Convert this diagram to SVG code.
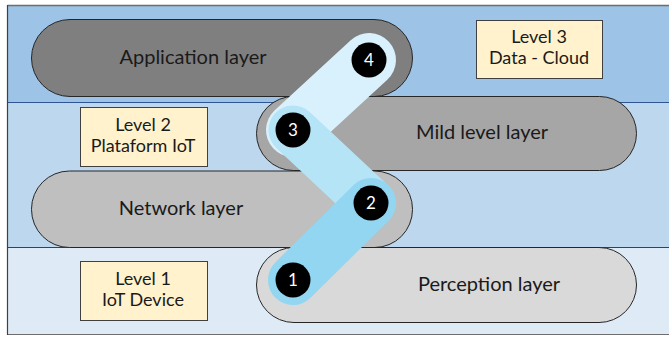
<svg xmlns="http://www.w3.org/2000/svg" width="669" height="337" viewBox="0 0 669 337">
<style>
.pill{stroke:#262626;stroke-width:1}
.lt{font-family:Lato,"Open Sans",sans-serif;font-size:20px;fill:#1a1a1a;text-anchor:middle}
.box{fill:#fff2cc;stroke:#404040;stroke-width:1}
.bt{font-family:Lato,"Open Sans",sans-serif;font-size:18px;fill:#1a1a1a;text-anchor:middle}
.band{fill:none;stroke-linecap:round}
.num{fill:#000}
.nt{font-family:Lato,"Open Sans",sans-serif;font-size:17px;fill:#fff;text-anchor:middle}
</style>
<rect width="669" height="337" fill="#ffffff"/>
<g id="bands">
<rect x="7.5" y="5.5" width="670" height="97" fill="#9dc3e6"/>
<rect x="7.5" y="102.5" width="670" height="145" fill="#bdd7ee"/>
<rect x="7.5" y="247.5" width="670" height="87" fill="#deebf7"/>
<line x1="7.5" y1="5.5" x2="669" y2="5.5" stroke="#6e6e6e" stroke-width="1.5"/>
<line x1="7.5" y1="102.5" x2="669" y2="102.5" stroke="#2f5597" stroke-width="1.2"/>
<line x1="7.5" y1="247.5" x2="669" y2="247.5" stroke="#404040" stroke-width="1.2"/>
<line x1="7.5" y1="334.5" x2="669" y2="334.5" stroke="#6e6e6e" stroke-width="1.2"/>
<line x1="7.5" y1="5" x2="7.5" y2="335" stroke="#404040" stroke-width="1.2"/>
</g>
<g id="application-layer">
<rect class="pill" x="31.5" y="19.5" width="381" height="77" rx="38.5" fill="#7f7f7f"/>
<text class="lt" x="193" y="64">Application layer</text>
</g>
<g id="mild-level-layer">
<rect class="pill" x="256.5" y="96.5" width="380" height="74" rx="37" fill="#a6a6a6"/>
<text class="lt" x="482" y="139">Mild level layer</text>
</g>
<g id="network-layer">
<rect class="pill" x="31.5" y="171" width="381" height="76.5" rx="38" fill="#bfbfbf"/>
<text class="lt" x="181" y="215">Network layer</text>
</g>
<g id="perception-layer">
<rect class="pill" x="256.5" y="247.5" width="380" height="75" rx="37.5" fill="#d9d9d9"/>
<text class="lt" x="489" y="291">Perception layer</text>
</g>
<g id="level-3">
<rect class="box" x="476.5" y="20.5" width="126" height="58"/>
<text class="bt" x="539" y="43">Level 3</text>
<text class="bt" x="539" y="64">Data - Cloud</text>
</g>
<g id="level-2">
<rect class="box" x="80.5" y="107.5" width="127" height="59"/>
<text class="bt" x="143" y="131">Level 2</text>
<text class="bt" x="143" y="152">Plataform IoT</text>
</g>
<g id="level-1">
<rect class="box" x="80.5" y="261.5" width="127" height="59"/>
<text class="bt" x="143" y="285">Level 1</text>
<text class="bt" x="143" y="306">IoT Device</text>
</g>
<g id="connectors">
<line class="band" x1="293" y1="130" x2="369" y2="60" stroke="#d9f1fc" stroke-width="54"/>
<line class="band" x1="293" y1="130" x2="371" y2="203" stroke="#b5e4f6" stroke-width="49"/>
<line class="band" x1="293" y1="280" x2="371" y2="203" stroke="#92d6f1" stroke-width="50"/>
</g>
<g id="step-1"><circle class="num" cx="293" cy="280" r="17.5"/><text class="nt" x="293" y="286">1</text></g>
<g id="step-2"><circle class="num" cx="371" cy="203" r="17.5"/><text class="nt" x="371" y="209">2</text></g>
<g id="step-3"><circle class="num" cx="293" cy="130" r="17.5"/><text class="nt" x="293" y="136">3</text></g>
<g id="step-4"><circle class="num" cx="369" cy="60" r="17.5"/><text class="nt" x="369" y="66">4</text></g>
</svg>
